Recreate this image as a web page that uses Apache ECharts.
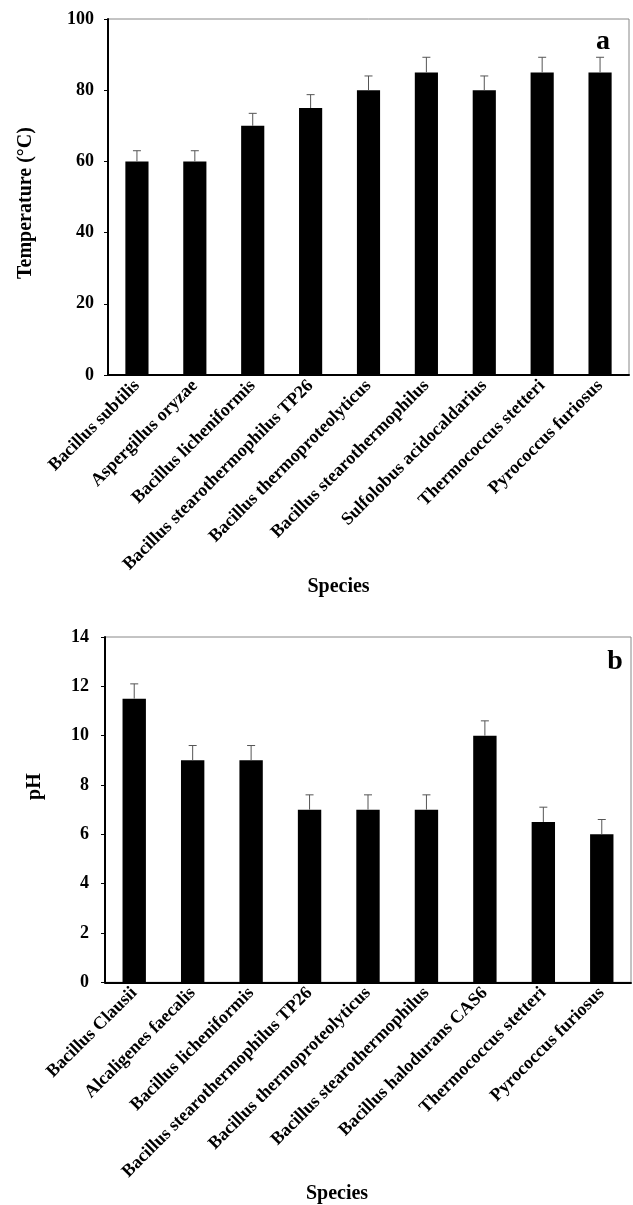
<!DOCTYPE html>
<html>
<head>
<meta charset="utf-8">
<script src="https://cdn.jsdelivr.net/npm/echarts@6/dist/echarts.min.js"></script>
<style>
html,body{margin:0;padding:0;background:#fff;}
#c{width:633px;height:1205px;}
</style>
</head>
<body>
<div id="c"></div>
<script>
// Panel a: optimum temperature
const speciesA = ['Bacillus subtilis','Aspergillus oryzae','Bacillus licheniformis','Bacillus stearothermophilus TP26','Bacillus thermoproteolyticus','Bacillus stearothermophilus','Sulfolobus acidocaldarius','Thermococcus stetteri','Pyrococcus furiosus'];
const tempValues = [60, 60, 70, 75, 80, 85, 80, 85, 85];
const tempErrors = [3, 3, 3.5, 3.75, 4, 4.25, 4, 4.25, 4.25];
const tempTicks = [0, 20, 40, 60, 80, 100];

// Panel b: optimum pH
const speciesB = ['Bacillus Clausii','Alcaligenes faecalis','Bacillus licheniformis','Bacillus stearothermophilus TP26','Bacillus thermoproteolyticus','Bacillus stearothermophilus','Bacillus halodurans CAS6','Thermococcus stetteri','Pyrococcus furiosus'];
const phValues = [11.5, 9, 9, 7, 7, 7, 10, 6.5, 6];
const phErrors = [0.6, 0.6, 0.6, 0.6, 0.6, 0.6, 0.6, 0.6, 0.6];
const phTicks = [0, 2, 4, 6, 8, 10, 12, 14];

const FONT = '"Liberation Serif", "Times New Roman", serif';

function errRender(params, api) {
  const x = api.value(0), v = api.value(1), e = api.value(2);
  const p0 = api.coord([x, v]);
  const p1 = api.coord([x, v + e]);
  const hw = 4;
  const st = { stroke: '#555', lineWidth: 1 };
  return {
    type: 'group',
    children: [
      { type: 'line', shape: { x1: p0[0], y1: p0[1], x2: p1[0], y2: p1[1] }, style: st },
      { type: 'line', shape: { x1: p1[0] - hw, y1: p1[1], x2: p1[0] + hw, y2: p1[1] }, style: st }
    ]
  };
}

function xAxisCfg(gridIndex, cats, gap, padR) {
  return {
    type: 'category', gridIndex: gridIndex, data: cats,
    axisLine: { show: true, lineStyle: { color: '#000', width: 2 } },
    axisTick: { show: false },
    axisLabel: { rotate: 45, interval: 0, margin: 8, color: '#000', fontFamily: FONT, fontWeight: 'bold', fontSize: 18 },
    name: 'Species', nameLocation: 'middle', nameGap: gap,
    nameTextStyle: { color: '#000', fontFamily: FONT, fontWeight: 'bold', fontSize: 20, padding: [0, padR, 0, 0] },
    splitLine: { show: false }
  };
}

function yAxisCfg(gridIndex, ticks, name, gap, pad, margin) {
  return {
    type: 'value', gridIndex: gridIndex,
    min: ticks[0], max: ticks[ticks.length - 1], interval: ticks[1] - ticks[0],
    axisLine: { show: true, lineStyle: { color: '#000', width: 2 } },
    axisTick: { show: true, inside: false, length: 4, lineStyle: { color: '#000', width: 1 } },
    axisLabel: { margin: margin, color: '#000', fontFamily: FONT, fontWeight: 'bold', fontSize: 18 },
    splitLine: { show: false },
    name: name, nameLocation: 'middle', nameGap: gap,
    nameTextStyle: { color: '#000', fontFamily: FONT, fontWeight: 'bold', fontSize: 20, padding: pad }
  };
}

const chart = echarts.init(document.getElementById('c'), null, { renderer: 'canvas' });
chart.setOption({
  animation: false,
  backgroundColor: '#fff',
  grid: [
    { left: 108, top: 19, width: 521, height: 356, show: true, borderColor: '#888', borderWidth: 1, backgroundColor: 'transparent' },
    { left: 105, top: 637, width: 526, height: 355, show: true, borderColor: '#888', borderWidth: 1, backgroundColor: 'transparent' }
  ],
  xAxis: [ xAxisCfg(0, speciesA, 202, 60), xAxisCfg(1, speciesB, 194, 62) ],
  yAxis: [
    yAxisCfg(0, tempTicks, 'Temperature (°C)', 72, [0, 12, 0, 0], 14),
    yAxisCfg(1, phTicks, 'pH', 60, [0, 0, 0, 46], 16)
  ],
  graphic: [
    { type: 'text', x: 603, y: 42, style: { text: 'a', font: 'bold 28px ' + FONT, fill: '#000', textAlign: 'center', textVerticalAlign: 'middle' } },
    { type: 'text', x: 615, y: 662, style: { text: 'b', font: 'bold 28px ' + FONT, fill: '#000', textAlign: 'center', textVerticalAlign: 'middle' } }
  ],
  series: [
    { type: 'bar', xAxisIndex: 0, yAxisIndex: 0, data: tempValues, barWidth: '40%', itemStyle: { color: '#000' } },
    { type: 'custom', xAxisIndex: 0, yAxisIndex: 0, renderItem: errRender, encode: { x: 0, y: 1 },
      data: tempValues.map((v, i) => [i, v, tempErrors[i]]), z: 3 },
    { type: 'bar', xAxisIndex: 1, yAxisIndex: 1, data: phValues, barWidth: '40%', itemStyle: { color: '#000' } },
    { type: 'custom', xAxisIndex: 1, yAxisIndex: 1, renderItem: errRender, encode: { x: 0, y: 1 },
      data: phValues.map((v, i) => [i, v, phErrors[i]]), z: 3 }
  ]
});
</script>
</body>
</html>
